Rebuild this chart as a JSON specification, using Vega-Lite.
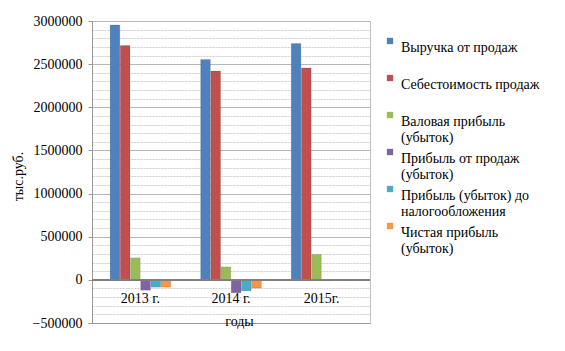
{
  "$schema": "https://vega.github.io/schema/vega-lite/v6.json",
  "autosize": "none",
  "width": 278,
  "height": 302,
  "padding": {"left": 92, "top": 21, "right": 195, "bottom": 28},
  "background": "white",
  "config": {
    "font": "Liberation Serif, Times New Roman, serif",
    "view": {"stroke": "#bfbfbf"},
    "axis": {"labelFont": "Liberation Serif, Times New Roman, serif", "titleFont": "Liberation Serif, Times New Roman, serif", "labelColor": "#000", "titleColor": "#000", "titleFontWeight": "normal"},
    "legend": {"labelFont": "Liberation Serif, Times New Roman, serif"}
  },
  "resolve": {"axis": {"y": "independent"}},
  "data": {"values": [
    {"year": "2013 г.", "ind": "Выручка от продаж", "value": 2955000},
    {"year": "2013 г.", "ind": "Себестоимость продаж", "value": 2715000},
    {"year": "2013 г.", "ind": "Валовая прибыль (убыток)", "value": 255000},
    {"year": "2013 г.", "ind": "Прибыль от продаж (убыток)", "value": -120000},
    {"year": "2013 г.", "ind": "Прибыль (убыток) до налогообложения", "value": -85000},
    {"year": "2013 г.", "ind": "Чистая прибыль (убыток)", "value": -85000},
    {"year": "2014 г.", "ind": "Выручка от продаж", "value": 2555000},
    {"year": "2014 г.", "ind": "Себестоимость продаж", "value": 2420000},
    {"year": "2014 г.", "ind": "Валовая прибыль (убыток)", "value": 150000},
    {"year": "2014 г.", "ind": "Прибыль от продаж (убыток)", "value": -150000},
    {"year": "2014 г.", "ind": "Прибыль (убыток) до налогообложения", "value": -128000},
    {"year": "2014 г.", "ind": "Чистая прибыль (убыток)", "value": -95000},
    {"year": "2015г.", "ind": "Выручка от продаж", "value": 2740000},
    {"year": "2015г.", "ind": "Себестоимость продаж", "value": 2455000},
    {"year": "2015г.", "ind": "Валовая прибыль (убыток)", "value": 295000},
    {"year": "2015г.", "ind": "Прибыль от продаж (убыток)", "value": -10000},
    {"year": "2015г.", "ind": "Прибыль (убыток) до налогообложения", "value": -6000},
    {"year": "2015г.", "ind": "Чистая прибыль (убыток)", "value": -6000}
  ]},
  "layer": [
    {
      "mark": {"type": "rule", "color": "#808080", "strokeWidth": 1},
      "encoding": {"y": {"datum": 0, "type": "quantitative",
        "scale": {"domain": [-500000, 3000000], "nice": false},
        "axis": {"orient": "left", "title": null, "labels": false, "ticks": false, "domain": false, "grid": true, "gridColor": "#cfcfcf", "gridWidth": 1, "gridDash": [2, 1],
          "values": [-400000,-300000,-200000,-100000,100000,200000,300000,400000,600000,700000,800000,900000,1100000,1200000,1300000,1400000,1600000,1700000,1800000,1900000,2100000,2200000,2300000,2400000,2600000,2700000,2800000,2900000]}}}
    },
    {
      "mark": {"type": "bar", "stroke": "#00000033", "strokeWidth": 0.5},
      "encoding": {
        "x": {"field": "year", "type": "nominal", "sort": null,
          "scale": {"paddingInner": 0.33, "paddingOuter": 0.2},
          "axis": {"title": "годы", "labelAngle": 0, "labelFontSize": 14, "labelPadding": -32, "ticks": false, "domain": true, "domainColor": "#999", "titleFontSize": 14, "titleBaseline": "middle", "titleY": -2, "titleX": 147}},
        "xOffset": {"field": "ind", "type": "nominal", "sort": null, "scale": {"paddingInner": 0.05}},
        "y": {"field": "value", "type": "quantitative",
          "scale": {"domain": [-500000, 3000000], "nice": false},
          "axis": {"orient": "left", "title": "тыс.руб.", "titleFontSize": 14, "titleX": -74, "titleY": 155, "titleAngle": -90, "titleBaseline": "middle", "titleAlign": "center",
            "values": [-500000, 0, 500000, 1000000, 1500000, 2000000, 2500000, 3000000],
            "format": "d",
            "labelFontSize": 14, "labelPadding": 6, "tickSize": 4, "tickColor": "#999", "domainColor": "#999",
            "grid": true, "gridColor": "#b8b8b8", "gridWidth": 1}},
        "color": {"field": "ind", "type": "nominal", "sort": null,
          "scale": {"domain": ["Выручка от продаж", "Себестоимость продаж", "Валовая прибыль (убыток)", "Прибыль от продаж (убыток)", "Прибыль (убыток) до налогообложения", "Чистая прибыль (убыток)"],
            "range": ["#4F81BD", "#C0504D", "#9BBB59", "#8064A2", "#4BACC6", "#F79646"]},
          "legend": {"title": null, "orient": "none", "legendX": 291, "legendY": 13,
            "symbolType": "square", "symbolSize": 40, "symbolStrokeWidth": 0,
            "labelFont": "Liberation Serif, Times New Roman, serif", "labelFontSize": 14, "labelLineHeight": 14.5, "labelColor": "#000",
            "labelBaseline": "top", "labelOffset": 4,
            "rowPadding": -3, "labelLimit": 200,
            "labelExpr": "datum.label == 'Валовая прибыль (убыток)' ? ['Валовая прибыль', '(убыток)'] : datum.label == 'Прибыль от продаж (убыток)' ? ['Прибыль от продаж', '(убыток)'] : datum.label == 'Прибыль (убыток) до налогообложения' ? ['Прибыль (убыток) до', 'налогообложения'] : datum.label == 'Чистая прибыль (убыток)' ? ['Чистая прибыль', '(убыток)'] : [datum.label, ' ']"}}
      }
    },
    {
      "mark": {"type": "rule", "color": "#808080", "strokeWidth": 1},
      "encoding": {"y": {"datum": 0, "type": "quantitative", "axis": null}}
    }
  ]
}
